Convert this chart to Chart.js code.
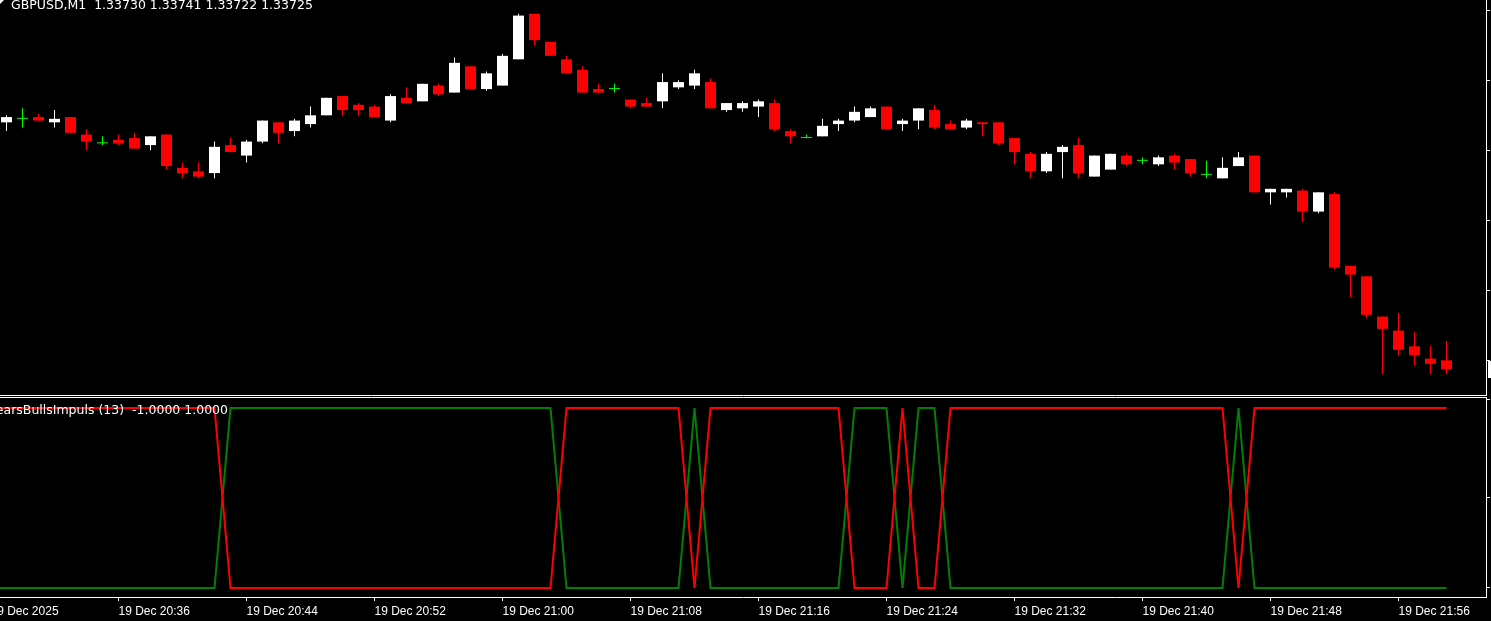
<!DOCTYPE html>
<html>
<head>
<meta charset="utf-8">
<script src="https://cdn.jsdelivr.net/npm/chart.js@4.4.1/dist/chart.umd.min.js"></script>
<style>
  html, body { margin: 0; padding: 0; background: #000; overflow: hidden; }
  #wrap { position: relative; width: 1491px; height: 621px; overflow: hidden; background: #000; }
  #price { position: absolute; left: 0; top: 0; }
  #impuls { position: absolute; left: 0; top: 396px; }
</style>
</head>
<body>
<div id="wrap">
  <canvas id="price" width="1560" height="396"></canvas>
  <canvas id="impuls" width="1560" height="225"></canvas>
</div>
<script>
// GBPUSD M1, 19 Dec 2025 20:29 .. 21:59 (one bar per minute)
const opens = [
  1.33866, 1.33868, 1.33869, 1.33866, 1.33869, 1.33859, 1.33854, 1.33856, 1.33857, 1.33853,
  1.33859, 1.33840, 1.33838, 1.33837, 1.33853, 1.33847, 1.33855, 1.33866, 1.33861, 1.33865,
  1.33870, 1.33881, 1.33876, 1.33875, 1.33867, 1.33880, 1.33878, 1.33887, 1.33883, 1.33898,
  1.33885, 1.33887, 1.33902, 1.33928, 1.33912, 1.33902, 1.33896, 1.33885, 1.33885, 1.33879,
  1.33877, 1.33878, 1.33886, 1.33887, 1.33889, 1.33873, 1.33874, 1.33875, 1.33877, 1.33861,
  1.33857, 1.33858, 1.33865, 1.33867, 1.33869, 1.33875, 1.33865, 1.33867, 1.33873, 1.33865,
  1.33863, 1.33866, 1.33866, 1.33857, 1.33848, 1.33838, 1.33849, 1.33853, 1.33835, 1.33839,
  1.33847, 1.33844, 1.33842, 1.33847, 1.33845, 1.33836, 1.33834, 1.33841, 1.33847, 1.33826,
  1.33826, 1.33827, 1.33815, 1.33825, 1.33784, 1.33778, 1.33755, 1.33747, 1.33738, 1.33731,
  1.33730
]
const highs = [
  1.33870, 1.33874, 1.33871, 1.33873, 1.33869, 1.33862, 1.33858, 1.33859, 1.33860, 1.33858,
  1.33859, 1.33843, 1.33843, 1.33855, 1.33857, 1.33856, 1.33867, 1.33866, 1.33868, 1.33875,
  1.33880, 1.33881, 1.33877, 1.33876, 1.33882, 1.33886, 1.33888, 1.33888, 1.33903, 1.33898,
  1.33895, 1.33905, 1.33928, 1.33928, 1.33912, 1.33904, 1.33898, 1.33888, 1.33888, 1.33879,
  1.33880, 1.33894, 1.33890, 1.33896, 1.33891, 1.33877, 1.33878, 1.33879, 1.33879, 1.33862,
  1.33859, 1.33868, 1.33868, 1.33875, 1.33875, 1.33875, 1.33868, 1.33874, 1.33876, 1.33867,
  1.33868, 1.33866, 1.33866, 1.33857, 1.33849, 1.33849, 1.33853, 1.33857, 1.33847, 1.33848,
  1.33848, 1.33846, 1.33847, 1.33848, 1.33845, 1.33844, 1.33846, 1.33849, 1.33847, 1.33828,
  1.33828, 1.33828, 1.33826, 1.33826, 1.33784, 1.33778, 1.33755, 1.33757, 1.33746, 1.33738,
  1.33741
]
const lows = [
  1.33861, 1.33863, 1.33867, 1.33863, 1.33860, 1.33850, 1.33853, 1.33853, 1.33851, 1.33850,
  1.33839, 1.33834, 1.33834, 1.33834, 1.33849, 1.33843, 1.33854, 1.33854, 1.33858, 1.33863,
  1.33870, 1.33870, 1.33870, 1.33869, 1.33866, 1.33877, 1.33878, 1.33881, 1.33883, 1.33885,
  1.33884, 1.33887, 1.33902, 1.33910, 1.33904, 1.33894, 1.33883, 1.33883, 1.33883, 1.33874,
  1.33875, 1.33874, 1.33885, 1.33885, 1.33874, 1.33872, 1.33872, 1.33869, 1.33861, 1.33854,
  1.33857, 1.33858, 1.33861, 1.33866, 1.33869, 1.33862, 1.33861, 1.33862, 1.33862, 1.33862,
  1.33862, 1.33858, 1.33853, 1.33842, 1.33834, 1.33837, 1.33834, 1.33834, 1.33835, 1.33839,
  1.33841, 1.33842, 1.33841, 1.33839, 1.33835, 1.33834, 1.33834, 1.33841, 1.33826, 1.33819,
  1.33823, 1.33809, 1.33814, 1.33782, 1.33766, 1.33754, 1.33722, 1.33733, 1.33727, 1.33722,
  1.33722
]
const closes = [
  1.33869, 1.33868, 1.33867, 1.33868, 1.33860, 1.33855, 1.33854, 1.33854, 1.33851, 1.33858,
  1.33841, 1.33837, 1.33835, 1.33852, 1.33849, 1.33855, 1.33867, 1.33860, 1.33867, 1.33870,
  1.33880, 1.33873, 1.33873, 1.33869, 1.33881, 1.33877, 1.33888, 1.33882, 1.33900, 1.33885,
  1.33894, 1.33904, 1.33927, 1.33913, 1.33904, 1.33894, 1.33883, 1.33883, 1.33885, 1.33875,
  1.33875, 1.33889, 1.33889, 1.33894, 1.33874, 1.33877, 1.33877, 1.33878, 1.33862, 1.33858,
  1.33857, 1.33864, 1.33867, 1.33872, 1.33874, 1.33862, 1.33867, 1.33874, 1.33863, 1.33862,
  1.33867, 1.33865, 1.33854, 1.33849, 1.33838, 1.33848, 1.33852, 1.33837, 1.33847, 1.33848,
  1.33842, 1.33844, 1.33846, 1.33843, 1.33837, 1.33836, 1.33840, 1.33846, 1.33826, 1.33828,
  1.33828, 1.33815, 1.33826, 1.33783, 1.33779, 1.33756, 1.33748, 1.33736, 1.33733, 1.33728,
  1.33725
]

// BearsBullsImpuls (13) buffers, 20:28 .. 21:59 (one bar more on the left, cut by the window)
const bullsLine = [
  -1,
  -1, -1, -1, -1, -1, -1, -1, -1, -1, -1, -1, -1, -1, -1, 1, 1, 1, 1, 1, 1,
  1, 1, 1, 1, 1, 1, 1, 1, 1, 1, 1, 1, 1, 1, 1, -1, -1, -1, -1, -1,
  -1, -1, -1, 1, -1, -1, -1, -1, -1, -1, -1, -1, -1, 1, 1, 1, -1, 1, 1, -1,
  -1, -1, -1, -1, -1, -1, -1, -1, -1, -1, -1, -1, -1, -1, -1, -1, -1, 1, -1, -1,
  -1, -1, -1, -1, -1, -1, -1, -1, -1, -1, -1
]
const bearsLine = [
  1,
  1, 1, 1, 1, 1, 1, 1, 1, 1, 1, 1, 1, 1, 1, -1, -1, -1, -1, -1, -1,
  -1, -1, -1, -1, -1, -1, -1, -1, -1, -1, -1, -1, -1, -1, -1, 1, 1, 1, 1, 1,
  1, 1, 1, -1, 1, 1, 1, 1, 1, 1, 1, 1, 1, -1, -1, -1, 1, -1, -1, 1,
  1, 1, 1, 1, 1, 1, 1, 1, 1, 1, 1, 1, 1, 1, 1, 1, 1, -1, 1, 1,
  1, 1, 1, 1, 1, 1, 1, 1, 1, 1, 1
]

const timeTicks = [-1, 7, 15, 23, 31, 39, 47, 55, 63, 71, 79, 87]
const timeLabels = ['19 Dec 2025', '19 Dec 20:36', '19 Dec 20:44', '19 Dec 20:52', '19 Dec 21:00', '19 Dec 21:08',
  '19 Dec 21:16', '19 Dec 21:24', '19 Dec 21:32', '19 Dec 21:40', '19 Dec 21:48', '19 Dec 21:56']
const priceTicks = [1.3373, 1.3377, 1.3381, 1.3385, 1.3389, 1.3393]
const impulsTicks = [-1, 0, 1.089]

const symbolTitle = 'GBPUSD,M1  1.33730 1.33741 1.33722 1.33725'
const impulsTitle = 'BearsBullsImpuls (13)  -1.0000 1.0000'

// one bar = 16px, first bar centre at x = 6.5
const X_MIN = -0.40625
const X_MAX = 92.46875
const AXIS_W = 74

const idx = opens.map((_, i) => i)
const candleColor = idx.map(i => closes[i] > opens[i] ? '#ffffff' : closes[i] < opens[i] ? '#ff0000' : '#00ff00')

const rightAxis = (ticks, min, max) => ({
  position: 'right',
  min: min,
  max: max,
  afterFit: s => { s.width = AXIS_W; s.paddingTop = 0; s.paddingBottom = 0 },
  afterBuildTicks: s => { s.ticks = ticks.map(v => ({ value: v })) },
  grid: { drawOnChartArea: false, color: '#ffffff', tickLength: 4 },
  border: { color: '#ffffff' },
  ticks: { color: '#ffffff', font: { family: 'Liberation Sans', size: 12 }, padding: 4 }
})

const mainFrame = {
  id: 'mainFrame',
  afterDraw (chart) {
    const { ctx, chartArea } = chart
    ctx.save()
    ctx.strokeStyle = '#ffffff'
    ctx.lineWidth = 1
    ctx.beginPath()
    ctx.moveTo(0, chartArea.bottom + 0.5)
    ctx.lineTo(chartArea.right + 1, chartArea.bottom + 0.5)
    ctx.stroke()
    // little one-click arrow in the corner
    ctx.fillStyle = '#ffffff'
    ctx.beginPath()
    ctx.moveTo(0, 0)
    ctx.lineTo(4, 0)
    ctx.lineTo(0, 4)
    ctx.fill()
    ctx.font = '12.5px "DejaVu Sans"'
    ctx.textBaseline = 'alphabetic'
    ctx.fillText(symbolTitle, 11, 9)
    // bid label on price scale
    const yb = chart.scales.y.getPixelForValue(closes[closes.length - 1])
    ctx.fillRect(chartArea.right + 2, Math.round(yb) - 8, 60, 17)
    ctx.fillStyle = '#000000'
    ctx.font = '12px "Liberation Sans"'
    ctx.textBaseline = 'middle'
    ctx.fillText(closes[closes.length - 1].toFixed(5), chartArea.right + 6, yb)
    ctx.restore()
  }
}

new Chart(document.getElementById('price'), {
  type: 'bar',
  data: {
    datasets: [
      {
        data: idx.map(i => ({ x: i, y: [opens[i], closes[i]] })),
        backgroundColor: candleColor,
        maxBarThickness: 11,
        minBarLength: 1,
        order: 0
      },
      {
        data: idx.map(i => ({ x: i, y: [lows[i], highs[i]] })),
        backgroundColor: candleColor,
        maxBarThickness: 1,
        minBarLength: 1,
        order: 1
      }
    ]
  },
  options: {
    responsive: false,
    animation: false,
    datasets: { bar: { grouped: false, borderWidth: 0, inflateAmount: 0 } },
    layout: { padding: { left: 0, right: 0, top: 0, bottom: 1 } },
    plugins: { legend: { display: false }, tooltip: { enabled: false } },
    scales: {
      x: { type: 'linear', display: false, min: X_MIN, max: X_MAX, offset: false },
      y: rightAxis(priceTicks, 1.337102, 1.339359)
    }
  },
  plugins: [mainFrame]
})

const impulsFrame = {
  id: 'impulsFrame',
  afterDraw (chart) {
    const { ctx, chartArea } = chart
    ctx.save()
    ctx.strokeStyle = '#ffffff'
    ctx.lineWidth = 1
    ctx.beginPath()
    ctx.moveTo(0, chartArea.top + 0.5)
    ctx.lineTo(chartArea.right + 1, chartArea.top + 0.5)
    ctx.stroke()
    ctx.fillStyle = '#ffffff'
    ctx.font = '12.5px "DejaVu Sans"'
    ctx.textAlign = 'right'
    ctx.textBaseline = 'alphabetic'
    ctx.fillText(impulsTitle, 228, 18)
    ctx.restore()
  }
}

// indicator buffers start one bar before the first candle
const lineIdx = bullsLine.map((_, i) => i - 1)

new Chart(document.getElementById('impuls'), {
  type: 'line',
  data: {
    datasets: [
      {
        data: lineIdx.map((x, i) => ({ x: x, y: bullsLine[i] })),
        borderColor: '#008000',
        order: 1
      },
      {
        data: lineIdx.map((x, i) => ({ x: x, y: bearsLine[i] })),
        borderColor: '#ff0000',
        order: 0
      }
    ]
  },
  options: {
    responsive: false,
    animation: false,
    datasets: { line: { borderWidth: 2, pointRadius: 0, tension: 0, fill: false, clip: 0 } },
    layout: { padding: { left: 0, right: 0, top: 1, bottom: 0 } },
    plugins: { legend: { display: false }, tooltip: { enabled: false } },
    scales: {
      x: {
        type: 'linear',
        min: X_MIN,
        max: X_MAX,
        offset: false,
        afterFit: s => { s.height = 24; s.paddingLeft = 0; s.paddingRight = 0 },
        afterBuildTicks: s => { s.ticks = timeTicks.map(v => ({ value: v })) },
        grid: { drawOnChartArea: false, color: '#ffffff', tickLength: 4 },
        border: { color: '#ffffff' },
        ticks: {
          color: '#ffffff',
          font: { family: 'Liberation Sans', size: 12 },
          align: 'start',
          autoSkip: false,
          maxRotation: 0,
          padding: 3,
          callback: (v, i) => timeLabels[i]
        }
      },
      y: rightAxis(impulsTicks, -1.1, 1.1222)
    }
  },
  plugins: [impulsFrame]
})
</script>
</body>
</html>
